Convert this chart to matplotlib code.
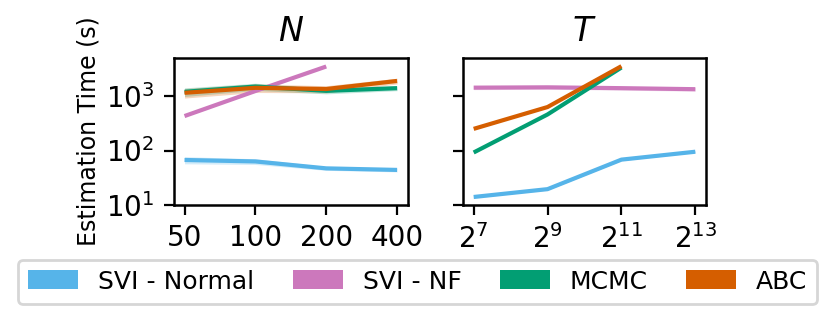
import numpy as np
import matplotlib.pyplot as plt
from matplotlib.patches import Patch

# N panel
n_vals = [50, 100, 200, 400]
n_svi_normal = [67, 63, 47, 44]
n_svi_nf = [430, 1240, 3500]
n_mcmc = [1200, 1500, 1250, 1400]
n_abc = [1150, 1420, 1350, 1900]
# relative spread for the shaded bands, one per series
n_bands = [[0.15, 0.12, 0.08, 0.08], [0.03, 0.03, 0.03],
           [0.18, 0.15, 0.12, 0.1], [0.2, 0.18, 0.15, 0.12]]

# T panel
t_vals = [2**7, 2**9, 2**11, 2**13]
t_svi_normal = [14, 19.5, 68, 95]
t_svi_nf = [1430, 1450, 1400, 1340]
t_mcmc = [92, 460, 3350]
t_abc = [250, 630, 3550]
t_bands = [[0.04] * 4, [0.08] * 4, [0.03] * 3, [0.03] * 3]

labels = ['SVI - Normal', 'SVI - NF', 'MCMC', 'ABC']
colors = ['#56B4E9', '#CC78BC', '#029E73', '#D55E00']

plt.rcParams['font.family'] = ['DejaVu Sans']
fig = plt.figure(figsize=(4.16, 1.65), dpi=200)
ax1 = fig.add_axes([0.209, 0.379, 0.281, 0.445])
ax2 = fig.add_axes([0.556, 0.379, 0.293, 0.445], sharey=ax1)


def draw(ax, x, ys, bands):
    for y, b, c in zip(ys, bands, colors):
        xx = np.array(x[:len(y)], dtype=float)
        yy = np.array(y, dtype=float)
        b = np.array(b)
        ax.fill_between(xx, yy * (1 - b), yy * (1 + b), color=c, alpha=0.25, lw=0)
        ax.plot(xx, yy, color=c, lw=1.5, solid_capstyle='butt')


draw(ax1, n_vals, [n_svi_normal, n_svi_nf, n_mcmc, n_abc], n_bands)
draw(ax2, t_vals, [t_svi_normal, t_svi_nf, t_mcmc, t_abc], t_bands)

ax1.set_xscale('log')
ax2.set_xscale('log', base=2)

for ax in (ax1, ax2):
    ax.set_yscale('log')
    ax.set_ylim(10, 5000)
    ax.set_yticks([10, 100, 1000])
    ax.minorticks_off()
    ax.tick_params(labelsize=10, length=3.5, width=0.8)
    for s in ax.spines.values():
        s.set_linewidth(0.9)

ax1.set_xticks(n_vals)
ax1.set_xticklabels([str(v) for v in n_vals])
ax2.set_xticks(t_vals)
ax2.set_xticklabels([r'$2^{%d}$' % int(np.log2(v)) for v in t_vals])
ax2.tick_params(labelleft=False)

ax1.set_ylabel('Estimation Time (s)', fontsize=8.5, labelpad=2)
ax1.set_title('$N$', fontsize=12)
ax2.set_title('$T$', fontsize=12)

handles = [Patch(facecolor=c, label=l) for c, l in zip(colors, labels)]
fig.legend(handles=handles, loc='lower left', bbox_to_anchor=(0.022, 0.08, 0.96, 0.12),
           ncol=4, mode='expand', fontsize=9, handlelength=2.0, handleheight=0.8,
           frameon=True, borderaxespad=0)

fig.savefig('out.png', dpi=200)
